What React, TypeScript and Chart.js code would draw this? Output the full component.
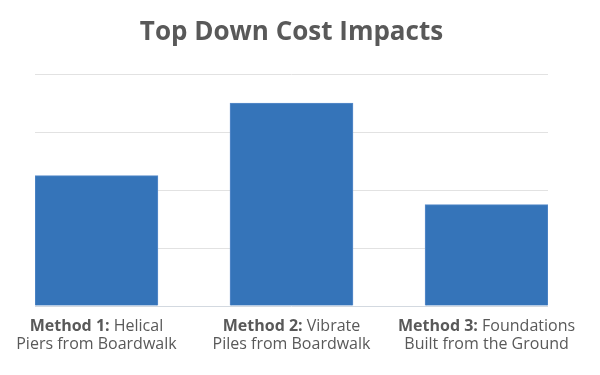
import React, { useEffect, useRef } from "react";
import { Chart, registerables } from "chart.js";

Chart.register(...registerables);

const titleText = "Top Down Cost Impacts";
const catBold = ["Method 1:", "Method 2:", "Method 3:"];
const catRest = ["Helical", "Vibrate", "Foundations"];
const catLine2 = ["Piers from Boardwalk", "Piles from Boardwalk", "Built from the Ground"];
const values = [2.25, 3.5, 1.75];
const positions = [1, 2, 3];

const FONT = "'Open Sans', sans-serif";
const TEXT = "#595959";

const labelPlugin = {
  id: "twoToneLabels",
  afterDraw(chart: any) {
    const ctx = chart.ctx;
    const xs = chart.scales.x;
    const base = chart.chartArea.bottom;
    ctx.save();
    ctx.fillStyle = TEXT;
    ctx.textBaseline = "middle";
    positions.forEach((p, i) => {
      const cx = xs.getPixelForValue(p);
      const boldFont = `bold 16px ${FONT}`;
      const regFont = `16px ${FONT}`;
      const b = catBold[i] + " ";
      ctx.font = boldFont;
      const wb = ctx.measureText(b).width;
      ctx.font = regFont;
      const wr = ctx.measureText(catRest[i]).width;
      const start = cx - (wb + wr) / 2;
      const y1 = base + 20;
      ctx.textAlign = "left";
      ctx.font = boldFont;
      ctx.fillText(b, start, y1);
      ctx.font = regFont;
      ctx.fillText(catRest[i], start + wb, y1);
      ctx.textAlign = "center";
      ctx.fillText(catLine2[i], cx, y1 + 18);
    });
    ctx.restore();
  },
};

export default function App() {
  const ref = useRef<HTMLCanvasElement>(null);
  useEffect(() => {
    document.body.style.margin = "0";
    const chart = new Chart(ref.current!, {
      type: "bar",
      data: {
        datasets: [
          {
            data: positions.map((p, i) => ({ x: p, y: values[i] })),
            backgroundColor: "#3574b9",
            borderColor: "#5a8ccb",
            borderWidth: 1,
            barThickness: 123,
          },
        ],
      },
      options: {
        animation: false,
        responsive: false,
        maintainAspectRatio: false,
        layout: { padding: { left: 35, right: 52, top: 0, bottom: 69 } },
        plugins: {
          legend: { display: false },
          tooltip: { enabled: false },
          title: {
            display: true,
            text: titleText,
            color: TEXT,
            font: { family: FONT, size: 26, weight: "bold" },
            padding: { top: 17, bottom: 26 },
          },
        },
        scales: {
          x: {
            type: "linear",
            display: false,
            offset: false,
            bounds: "data",
            min: 0.685,
            max: 3.315,
            ticks: { stepSize: 1 },
            grid: { offset: false },
          },
          y: {
            min: 0,
            max: 4,
            ticks: { display: false, stepSize: 1 },
            border: { display: false },
            grid: {
              drawTicks: false,
              color: (c: any) => (c.tick && c.tick.value === 0 ? "#d3d9e0" : "#e2e2e2"),
            },
          },
        },
      },
      plugins: [labelPlugin],
    });
    return () => chart.destroy();
  }, []);
  return (
    <div style={{ width: 600, height: 375 }}>
      <canvas ref={ref} width={600} height={375} />
    </div>
  );
}
